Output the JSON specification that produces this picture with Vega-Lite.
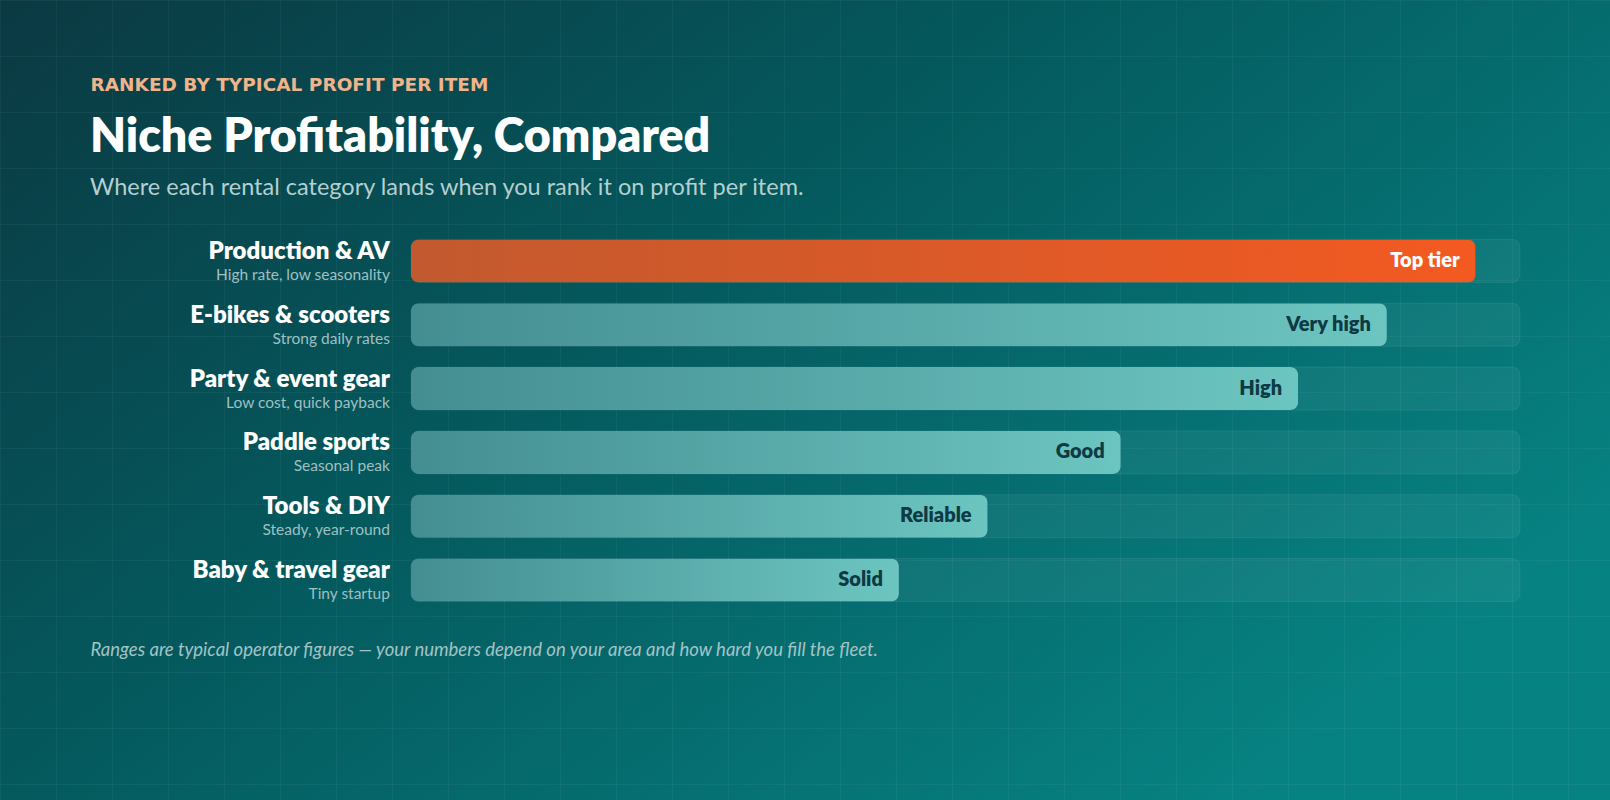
{
  "$schema": "https://vega.github.io/schema/vega-lite/v6.json",
  "width": 1610,
  "height": 800,
  "autosize": {"type": "none"},
  "padding": 0,
  "background": "#0a4d55",
  "view": {
    "stroke": null,
    "fill": {
      "gradient": "linear",
      "x1": 0, "y1": 0, "x2": 1, "y2": 0.65,
      "stops": [
        {"offset": 0, "color": "#0b3942"},
        {"offset": 0.45, "color": "#04595d"},
        {"offset": 1, "color": "#078282"}
      ]
    }
  },
  "title": {
    "text": "Niche Profitability, Compared",
    "subtitle": "Where each rental category lands when you rank it on profit per item.",
    "orient": "top",
    "anchor": "start",
    "frame": "group",
    "offset": -202,
    "dx": 90,
    "font": "Lato",
    "fontSize": 46.5,
    "fontWeight": 800,
    "color": "#ffffff",
    "subtitleFont": "Lato",
    "subtitleFontSize": 23.5,
    "subtitleColor": "#b4cfd1",
    "subtitlePadding": 14
  },
  "data": {
    "values": [
      {"name": "Production & AV", "note": "High rate, low seasonality", "score": 96, "label": "Top tier", "top": true},
      {"name": "E-bikes & scooters", "note": "Strong daily rates", "score": 88, "label": "Very high", "top": false},
      {"name": "Party & event gear", "note": "Low cost, quick payback", "score": 80, "label": "High", "top": false},
      {"name": "Paddle sports", "note": "Seasonal peak", "score": 64, "label": "Good", "top": false},
      {"name": "Tools & DIY", "note": "Steady, year-round", "score": 52, "label": "Reliable", "top": false},
      {"name": "Baby & travel gear", "note": "Tiny startup", "score": 44, "label": "Solid", "top": false}
    ]
  },
  "resolve": {"scale": {"x": "independent", "y": "independent"}, "axis": {"x": "independent", "y": "independent"}},
  "layer": [
    {
      "mark": {"type": "point", "opacity": 0},
      "encoding": {
        "x": {
          "datum": 0, "type": "quantitative",
          "scale": {"domain": [0, 28.75], "nice": false, "zero": false},
          "axis": {
            "orient": "top", "grid": true, "gridColor": "#ffffff", "gridOpacity": 0.045,
            "labels": false, "ticks": false, "domain": false, "tickCount": 29,
            "title": "RANKED BY TYPICAL PROFIT PER ITEM",
            "titleX": 90, "titleY": 84, "titleAlign": "left", "titleBaseline": "middle",
            "titleFont": "DejaVu Sans", "titleFontSize": 18.5, "titleFontWeight": "bold", "titleColor": "#efb48c"
          }
        },
        "y": {
          "datum": 0, "type": "quantitative",
          "scale": {"domain": [0, 14.2857], "nice": false, "zero": false, "reverse": true},
          "axis": {
            "orient": "left", "grid": true, "gridColor": "#ffffff", "gridOpacity": 0.045,
            "labels": false, "ticks": false, "domain": false, "tickCount": 15,
            "title": "Ranges are typical operator figures — your numbers depend on your area and how hard you fill the fleet.",
            "titleX": 90, "titleY": 649, "titleAngle": 0, "titleAlign": "left", "titleBaseline": "middle",
            "titleFont": "Lato", "titleFontSize": 18.5, "titleFontWeight": "normal", "titleFontStyle": "italic", "titleColor": "#a3c3c6"
          }
        }
      }
    },
    {
      "mark": {"type": "bar", "cornerRadius": 8, "fill": "#ffffff", "fillOpacity": 0.05, "stroke": "#ffffff", "strokeOpacity": 0.08, "strokeWidth": 1},
      "encoding": {
        "x": {"datum": 100, "type": "quantitative", "scale": {"domain": [-37.06, 108.12], "nice": false}, "axis": null},
        "y": {"field": "name", "type": "nominal", "sort": null, "axis": null,
              "scale": {"type": "band", "domain": ["Production & AV", "E-bikes & scooters", "Party & event gear", "Paddle sports", "Tools & DIY", "Baby & travel gear"], "range": [229, 612], "paddingInner": 0.326, "paddingOuter": 0.163}}
      }
    },
    {
      "mark": {"type": "bar", "cornerRadius": 8},
      "encoding": {
        "x": {"field": "score", "type": "quantitative", "scale": {"domain": [-37.06, 108.12], "nice": false}, "axis": null},
        "y": {"field": "name", "type": "nominal", "sort": null, "axis": null,
              "scale": {"type": "band", "domain": ["Production & AV", "E-bikes & scooters", "Party & event gear", "Paddle sports", "Tools & DIY", "Baby & travel gear"], "range": [229, 612], "paddingInner": 0.326, "paddingOuter": 0.163}},
        "fill": {
          "condition": {"test": "datum.top", "value": {"gradient": "linear", "x1": 0, "y1": 0, "x2": 1, "y2": 0, "stops": [{"offset": 0, "color": "#c2592f"}, {"offset": 1, "color": "#f35a21"}]}},
          "value": {"gradient": "linear", "x1": 0, "y1": 0, "x2": 1, "y2": 0, "stops": [{"offset": 0, "color": "#448e92"}, {"offset": 1, "color": "#6cc5c0"}]}
        }
      }
    },
    {
      "mark": {"type": "text", "align": "right", "baseline": "middle", "dx": -16, "font": "Lato", "fontSize": 20, "fontWeight": 800},
      "encoding": {
        "x": {"field": "score", "type": "quantitative", "scale": {"domain": [-37.06, 108.12], "nice": false}, "axis": null},
        "y": {"field": "name", "type": "nominal", "sort": null, "axis": null,
              "scale": {"type": "band", "domain": ["Production & AV", "E-bikes & scooters", "Party & event gear", "Paddle sports", "Tools & DIY", "Baby & travel gear"], "range": [229, 612], "paddingInner": 0.326, "paddingOuter": 0.163}},
        "text": {"field": "label"},
        "color": {"condition": {"test": "datum.top", "value": "#ffffff"}, "value": "#0d3a44"}
      }
    },
    {
      "mark": {"type": "text", "align": "right", "baseline": "alphabetic", "dy": -2, "font": "Lato", "fontSize": 24, "fontWeight": 800, "color": "#ffffff"},
      "encoding": {
        "x": {"datum": -1.9, "type": "quantitative", "scale": {"domain": [-37.06, 108.12], "nice": false}, "axis": null},
        "y": {"field": "name", "type": "nominal", "sort": null, "axis": null,
              "scale": {"type": "band", "domain": ["Production & AV", "E-bikes & scooters", "Party & event gear", "Paddle sports", "Tools & DIY", "Baby & travel gear"], "range": [229, 612], "paddingInner": 0.326, "paddingOuter": 0.163}},
        "text": {"field": "name"}
      }
    },
    {
      "mark": {"type": "text", "align": "right", "baseline": "middle", "dy": 14, "font": "Lato", "fontSize": 15.5, "color": "#9fc0c3"},
      "encoding": {
        "x": {"datum": -1.9, "type": "quantitative", "scale": {"domain": [-37.06, 108.12], "nice": false}, "axis": null},
        "y": {"field": "name", "type": "nominal", "sort": null, "axis": null,
              "scale": {"type": "band", "domain": ["Production & AV", "E-bikes & scooters", "Party & event gear", "Paddle sports", "Tools & DIY", "Baby & travel gear"], "range": [229, 612], "paddingInner": 0.326, "paddingOuter": 0.163}},
        "text": {"field": "note"}
      }
    }
  ]
}
